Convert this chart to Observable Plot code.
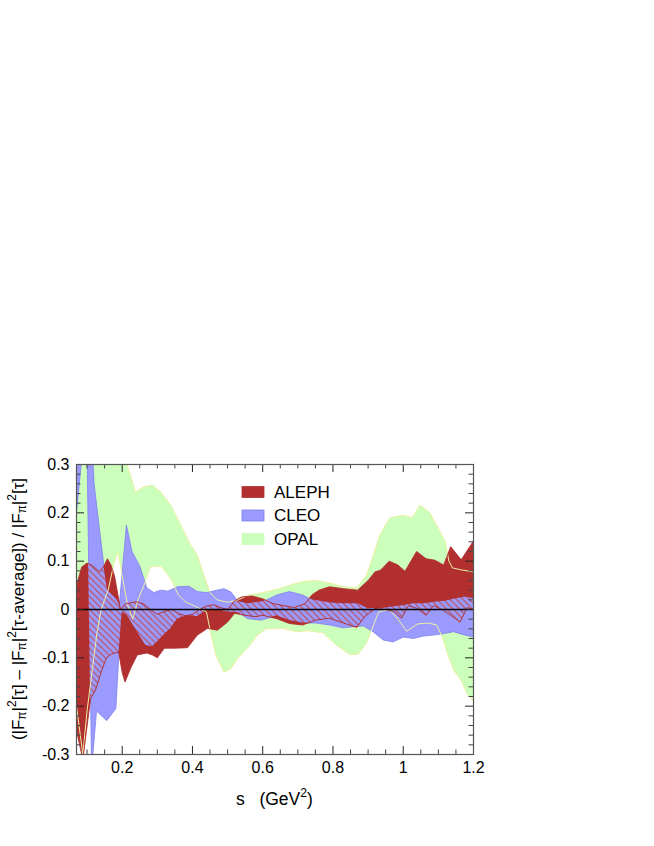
<!DOCTYPE html>
<html><head><meta charset="utf-8">
<script src="https://cdn.jsdelivr.net/npm/d3@7"></script>
<script src="https://cdn.jsdelivr.net/npm/@observablehq/plot@0.6"></script>
<style>body{margin:0;background:#fff} svg{display:block}</style>
</head><body><div id="chart"></div>
<script>
// ---- data: [s (GeV^2), relative deviation] along each band edge ----
const alephUpper = [[0.07,0.05],[0.085,0.088],[0.1,0.096],[0.112,0.092],[0.136,0.078],[0.148,0.09],[0.158,0.105],[0.168,0.092],[0.178,0.07],[0.188,0.03],[0.195,0.0],[0.21,0.012],[0.24,0.016],[0.26,0.012],[0.28,0.0],[0.3,-0.01],[0.32,-0.004],[0.34,0.0],[0.36,-0.008],[0.38,-0.013],[0.4,-0.01],[0.42,0.0],[0.44,0.007],[0.46,0.01],[0.48,0.004],[0.5,0.0],[0.52,0.018],[0.54,0.026],[0.57,0.028],[0.6,0.022],[0.63,0.012],[0.66,0.008],[0.69,0.004],[0.72,0.012],[0.74,0.03],[0.76,0.04],[0.79,0.047],[0.83,0.043],[0.87,0.04],[0.9,0.06],[0.92,0.078],[0.935,0.081],[0.96,0.1],[0.985,0.092],[1.005,0.079],[1.038,0.12],[1.065,0.105],[1.09,0.102],[1.115,0.092],[1.135,0.13],[1.165,0.103],[1.2,0.142]];
const alephLower = [[0.07,-0.25],[0.088,-0.31],[0.11,-0.185],[0.125,-0.165],[0.14,-0.13],[0.155,-0.1],[0.17,-0.092],[0.19,-0.088],[0.2,-0.13],[0.208,-0.15],[0.225,-0.12],[0.243,-0.094],[0.27,-0.09],[0.286,-0.094],[0.3,-0.1],[0.32,-0.08],[0.35,-0.08],[0.386,-0.079],[0.414,-0.053],[0.443,-0.039],[0.471,-0.043],[0.5,-0.026],[0.52,-0.008],[0.55,-0.012],[0.58,-0.015],[0.6,-0.012],[0.64,-0.019],[0.676,-0.029],[0.714,-0.032],[0.75,-0.022],[0.79,-0.018],[0.83,-0.028],[0.868,-0.037],[0.89,-0.015],[0.92,0.002],[0.95,0.0],[0.975,-0.005],[0.995,-0.018],[1.015,0.008],[1.04,0.002],[1.065,-0.012],[1.086,0.008],[1.11,0.0],[1.135,-0.012],[1.162,-0.026],[1.182,0.004],[1.2,0.0]];
const cleoUpper = [[0.07,0.6],[0.1,0.55],[0.12,0.26],[0.148,0.09],[0.158,0.04],[0.185,0.02],[0.192,0.01],[0.212,0.175],[0.228,0.12],[0.25,0.09],[0.27,0.045],[0.29,0.035],[0.31,0.04],[0.33,0.038],[0.357,0.047],[0.39,0.048],[0.414,0.037],[0.44,0.035],[0.47,0.04],[0.49,0.043],[0.51,0.036],[0.53,0.016],[0.56,0.012],[0.6,0.016],[0.64,0.03],[0.676,0.037],[0.714,0.03],[0.74,0.02],[0.77,0.016],[0.8,0.013],[0.83,0.012],[0.87,0.012],[0.9,0.002],[0.94,0.002],[0.97,0.005],[1.0,0.008],[1.03,0.012],[1.06,0.012],[1.09,0.015],[1.12,0.017],[1.15,0.022],[1.18,0.026],[1.2,0.022]];
const cleoLower = [[0.07,0.2],[0.09,0.35],[0.1,0.33],[0.113,-0.33],[0.127,-0.21],[0.156,-0.23],[0.182,-0.205],[0.19,-0.1],[0.2,-0.005],[0.214,-0.012],[0.243,-0.046],[0.267,-0.074],[0.286,-0.077],[0.3,-0.067],[0.319,-0.053],[0.338,-0.04],[0.357,-0.02],[0.386,-0.012],[0.414,-0.015],[0.443,0.0],[0.471,0.0],[0.5,-0.005],[0.53,-0.006],[0.557,-0.019],[0.595,-0.022],[0.64,-0.013],[0.676,-0.022],[0.714,-0.028],[0.752,-0.028],[0.79,-0.032],[0.829,-0.038],[0.867,-0.035],[0.886,-0.034],[0.914,-0.046],[0.943,-0.063],[0.971,-0.067],[1.0,-0.057],[1.029,-0.06],[1.057,-0.055],[1.086,-0.053],[1.114,-0.05],[1.143,-0.046],[1.171,-0.052],[1.2,-0.057]];
const opalUpper = [[0.07,0.6],[0.19,0.6],[0.214,0.3],[0.238,0.243],[0.262,0.254],[0.286,0.257],[0.31,0.243],[0.338,0.216],[0.367,0.174],[0.395,0.133],[0.414,0.112],[0.433,0.07],[0.45,0.035],[0.47,0.02],[0.5,0.015],[0.53,0.02],[0.56,0.03],[0.6,0.035],[0.64,0.042],[0.676,0.05],[0.714,0.058],[0.75,0.06],[0.79,0.055],[0.83,0.047],[0.867,0.045],[0.895,0.07],[0.914,0.11],[0.933,0.154],[0.962,0.19],[1.0,0.195],[1.025,0.19],[1.048,0.216],[1.076,0.2],[1.095,0.174],[1.12,0.14],[1.13,0.1],[1.14,0.086],[1.165,0.082],[1.2,0.078]];
const opalLower = [[0.07,-0.2],[0.088,-0.3],[0.1,-0.21],[0.114,-0.13],[0.128,-0.05],[0.14,0.0],[0.16,0.04],[0.178,0.1],[0.188,0.118],[0.2,0.07],[0.215,0.01],[0.23,-0.02],[0.245,0.02],[0.262,0.05],[0.28,0.088],[0.31,0.09],[0.338,0.064],[0.36,0.03],[0.38,0.016],[0.41,0.006],[0.44,-0.005],[0.455,-0.06],[0.467,-0.095],[0.49,-0.13],[0.51,-0.122],[0.53,-0.1],[0.56,-0.077],[0.585,-0.053],[0.61,-0.04],[0.63,-0.04],[0.657,-0.039],[0.695,-0.046],[0.73,-0.044],[0.771,-0.048],[0.81,-0.074],[0.848,-0.093],[0.871,-0.093],[0.895,-0.07],[0.914,-0.035],[0.93,-0.005],[0.96,0.0],[0.985,-0.02],[1.01,-0.045],[1.04,-0.03],[1.07,-0.028],[1.095,-0.032],[1.11,-0.055],[1.13,-0.1],[1.145,-0.127],[1.165,-0.147],[1.182,-0.175],[1.2,-0.19]];

const experiments = ["ALEPH", "CLEO", "OPAL"];
const xTickLabels = [0.2, 0.4, 0.6, 0.8, 1, 1.2];
const yTickLabels = [0.3, 0.2, 0.1, 0, -0.1, -0.2, -0.3];
const xDomain = [0.07, 1.2];
const yDomain = [-0.3, 0.3];

// ---- styles ----
const RED = "#b22f2f", BLUE = "#9b9bff", GREEN = "#ccffbb", BLUE_EDGE = "#7e7ef0", YEL = "#ecf0a4";
const FONT = "'Liberation Sans', Arial, Helvetica, sans-serif";
const W = 654, H = 846, mL = 76, mR = 181, mT = 464, mB = 92;
const pw = W - mL - mR, ph = H - mT - mB;

const xMajor = xTickLabels;
const xMinor = d3.range(0.1, 1.2001, 0.05).map(v => +v.toFixed(2)).filter(v => !xMajor.some(m => Math.abs(m - v) < 1e-6));
const yMajor = [-0.2, -0.1, 0, 0.1, 0.2];
const yMinor = d3.range(-0.28, 0.2801, 0.02).map(v => +v.toFixed(2)).filter(v => Math.abs(v * 10 - Math.round(v * 10)) > 1e-6);

const poly = (lo, hi) => lo.concat(hi.slice().reverse());
const fmt = d => String(d);
const P = {x: d => d[0], y: d => d[1]};

const plot = Plot.plot({
  width: W, height: H, marginLeft: mL, marginRight: mR, marginTop: mT, marginBottom: mB,
  x: {domain: xDomain, axis: null},
  y: {domain: yDomain, axis: null},
  style: {fontFamily: FONT, background: "white", color: "black"},
  marks: [
    Plot.line(poly(opalLower, opalUpper), {...P, fill: GREEN, stroke: "none", clip: true, ariaDescription: "opal"}),
    Plot.line(poly(cleoLower, cleoUpper), {...P, fill: BLUE, stroke: BLUE_EDGE, strokeWidth: 0.8, clip: true, ariaDescription: "cleo"}),
    Plot.line(poly(alephLower, alephUpper), {...P, fill: RED, stroke: "none", clip: true, ariaDescription: "aleph"}),
    Plot.line(poly(alephLower, alephUpper), {...P, fill: BLUE, stroke: "none", clip: true, ariaDescription: "hatch"}),
    Plot.line(opalLower, {...P, stroke: YEL, strokeWidth: 1, clip: true}),
    Plot.line(opalUpper, {...P, stroke: YEL, strokeWidth: 1, clip: true}),
    Plot.line(alephLower, {...P, stroke: RED, strokeWidth: 0.9, clip: true}),
    Plot.line(alephUpper, {...P, stroke: RED, strokeWidth: 0.9, clip: true}),
    Plot.ruleY([0], {stroke: "black", strokeWidth: 1.6}),
    // ticks (inward, all four sides)
    Plot.ruleX(xMajor, {x: d => d, insetTop: ph - 8, stroke: "#222"}),
    Plot.ruleX(xMajor, {x: d => d, insetBottom: ph - 8, stroke: "#222"}),
    Plot.ruleX(xMinor, {x: d => d, insetTop: ph - 4.5, stroke: "#444"}),
    Plot.ruleX(xMinor, {x: d => d, insetBottom: ph - 4.5, stroke: "#444"}),
    Plot.ruleY(yMajor, {y: d => d, insetRight: pw - 8, stroke: "#222"}),
    Plot.ruleY(yMajor, {y: d => d, insetLeft: pw - 8, stroke: "#222"}),
    Plot.ruleY(yMinor, {y: d => d, insetRight: pw - 4.5, stroke: "#444"}),
    Plot.ruleY(yMinor, {y: d => d, insetLeft: pw - 4.5, stroke: "#444"}),
    Plot.frame({stroke: "#555", strokeWidth: 1.2}),
    Plot.text(xTickLabels, {x: d => d, frameAnchor: "bottom", dy: 18, text: fmt, fontSize: 16, fill: "black"}),
    Plot.text(yTickLabels, {y: d => d, frameAnchor: "left", dx: -7, textAnchor: "end", text: fmt, fontSize: 16, fill: "black"})
  ]
});
document.getElementById("chart").appendChild(plot);

// ---- hatch overlap (ALEPH within CLEO) ----
const svg = d3.select(plot);
const defs = svg.append("defs");
const pat = defs.append("pattern").attr("id", "alephHatch").attr("patternUnits", "userSpaceOnUse").attr("width", 6.5).attr("height", 6.5);
pat.append("rect").attr("width", 6.5).attr("height", 6.5).attr("fill", BLUE);
pat.append("path").attr("d", "M0,0L6.5,6.5M-1,5.5L1,7.5M5.5,-1L7.5,1").attr("stroke", "#c04444").attr("stroke-width", 1).attr("fill", "none");
const cleoG = svg.select('g[aria-description="cleo"]');
const cleoPath = cleoG.select("path");
const clip = defs.append("clipPath").attr("id", "cleoClip");
const cp = clip.append("path").attr("d", cleoPath.attr("d"));
if (cleoG.attr("transform")) cp.attr("transform", cleoG.attr("transform"));
const hatchG = svg.select('g[aria-description="hatch"]');
hatchG.attr("fill", "url(#alephHatch)");
hatchG.selectAll("path").attr("fill", "url(#alephHatch)");
const hnode = hatchG.node();
const wrap = document.createElementNS("http://www.w3.org/2000/svg", "g");
wrap.setAttribute("clip-path", "url(#cleoClip)");
hnode.parentNode.insertBefore(wrap, hnode);
wrap.appendChild(hnode);

// ---- rich text helper ----
function rich(g, parts, size) {
  let shift = 0;
  parts.forEach(p => {
    const target = p.sub ? 4 : p.sup ? -6 : 0;
    const ts = g.append("tspan").text(p.t).attr("dy", target - shift);
    if (p.sub || p.sup) ts.attr("font-size", size * 0.7);
    shift = target;
  });
}

// x label
const xl = svg.append("text").attr("x", mL + pw / 2).attr("y", 799).attr("text-anchor", "middle")
  .attr("dominant-baseline", "central").attr("font-family", FONT).attr("font-size", 17.5).attr("fill", "black");
rich(xl, [{t: "s\u00a0\u00a0\u00a0(GeV"}, {t: "2", sup: true}, {t: ")"}], 17.5);

// y label
const yl = svg.append("text").attr("transform", `translate(18,${mT + ph / 2}) rotate(-90)`).attr("text-anchor", "middle")
  .attr("dominant-baseline", "central").attr("font-family", FONT).attr("font-size", 17).attr("fill", "black");
rich(yl, [
  {t: "(|F"}, {t: "π", sub: true}, {t: "|"}, {t: "2", sup: true}, {t: "[τ] \u2013 |F"}, {t: "π", sub: true}, {t: "|"}, {t: "2", sup: true},
  {t: "[τ-average]) / |F"}, {t: "π", sub: true}, {t: "|"}, {t: "2", sup: true}, {t: "[τ]"}
], 17);

// legend
const legColors = [RED, BLUE, GREEN];
const legY = [492, 515.5, 539];
const lg = svg.append("g").attr("text-anchor", "start");
experiments.forEach((name, i) => {
  lg.append("rect").attr("x", 242).attr("y", legY[i] - 5.5).attr("width", 22).attr("height", 11)
    .attr("fill", legColors[i]).attr("stroke", i === 1 ? BLUE_EDGE : legColors[i]).attr("stroke-width", 0.8);
  lg.append("text").attr("x", 274).attr("y", legY[i]).attr("dominant-baseline", "central").attr("text-anchor", "start")
    .attr("font-family", FONT).attr("font-size", 17).attr("fill", "black").text(name);
});
</script>
</body></html>
